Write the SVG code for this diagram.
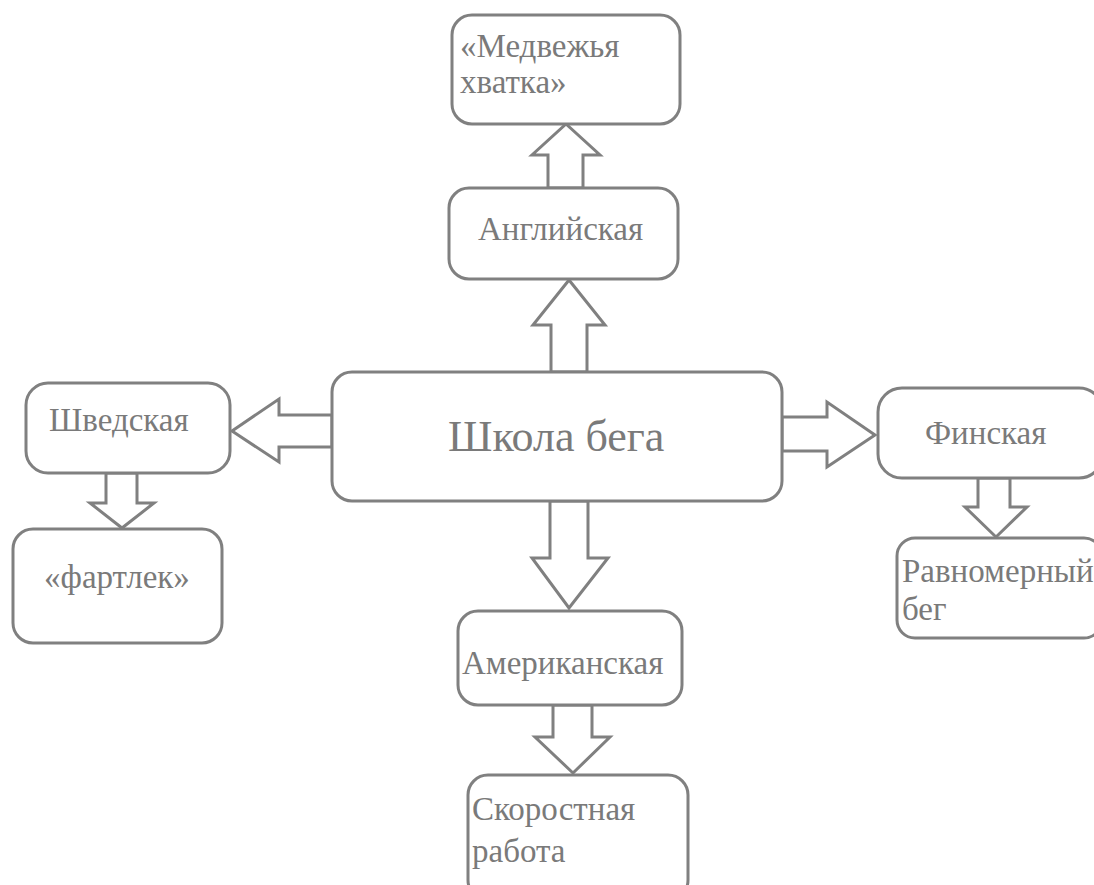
<svg xmlns="http://www.w3.org/2000/svg" width="1094" height="885" viewBox="0 0 1094 885">
<style>
.box{fill:#fff;stroke:#808080;stroke-width:3}
.arr{fill:#fff;stroke:#808080;stroke-width:3;stroke-linejoin:miter}
text{font-family:'Liberation Serif','Times New Roman',serif;font-size:33px;fill:#7a7a7a}
.big{font-size:44px}
</style>
<rect width="1094" height="885" fill="#fff"/>
<g id="connectors">
<polygon class="arr" points="551,372 551,325 533,325 569,280 605,325 587,325 587,372"/>
<polygon class="arr" points="548,188 548,155 532,155 566,124 600,155 583,155 583,188"/>
<polygon class="arr" points="332,415 279,415 279,399 232,431 279,462 279,447 332,447"/>
<polygon class="arr" points="782,417 827,417 827,402 875,435 827,467 827,451 782,451"/>
<polygon class="arr" points="550,501 550,558 532,558 569,608 608,558 588,558 588,501"/>
<polygon class="arr" points="553,705 553,737 535,737 573,773 610,737 592,737 592,705"/>
<polygon class="arr" points="106,473 106,503 90,503 122,528 154,503 137,503 137,473"/>
<polygon class="arr" points="978,478 978,507 965,507 996,537 1027,507 1010,507 1010,478"/>
</g>
<g id="main"><rect class="box" x="332" y="372" width="450" height="129" rx="20"/><text class="big" x="448" y="451">Школа бега</text></g>
<g id="english"><rect class="box" x="449" y="188" width="229" height="91" rx="20"/><text x="478" y="240">Английская</text></g>
<g id="bear"><rect class="box" x="452" y="15" width="228" height="109" rx="20"/><text x="460" y="57">«Медвежья</text><text x="460" y="93">хватка»</text></g>
<g id="swedish"><rect class="box" x="26" y="383" width="204" height="90" rx="22"/><text x="49" y="431">Шведская</text></g>
<g id="fartlek"><rect class="box" x="13" y="529" width="209" height="114" rx="20"/><text x="44" y="588">«фартлек»</text></g>
<g id="finnish"><rect class="box" x="878" y="388" width="225" height="90" rx="24"/><text x="925" y="444">Финская</text></g>
<g id="even"><rect class="box" x="897" y="538" width="205" height="100" rx="18"/><text x="902" y="582">Равномерный</text><text x="902" y="620">бег</text></g>
<g id="american"><rect class="box" x="458" y="611" width="224" height="94" rx="20"/><text x="462" y="674">Американская</text></g>
<g id="speed"><rect class="box" x="468" y="775" width="220" height="125" rx="20"/><text x="472" y="820">Скоростная</text><text x="472" y="862">работа</text></g>
</svg>
